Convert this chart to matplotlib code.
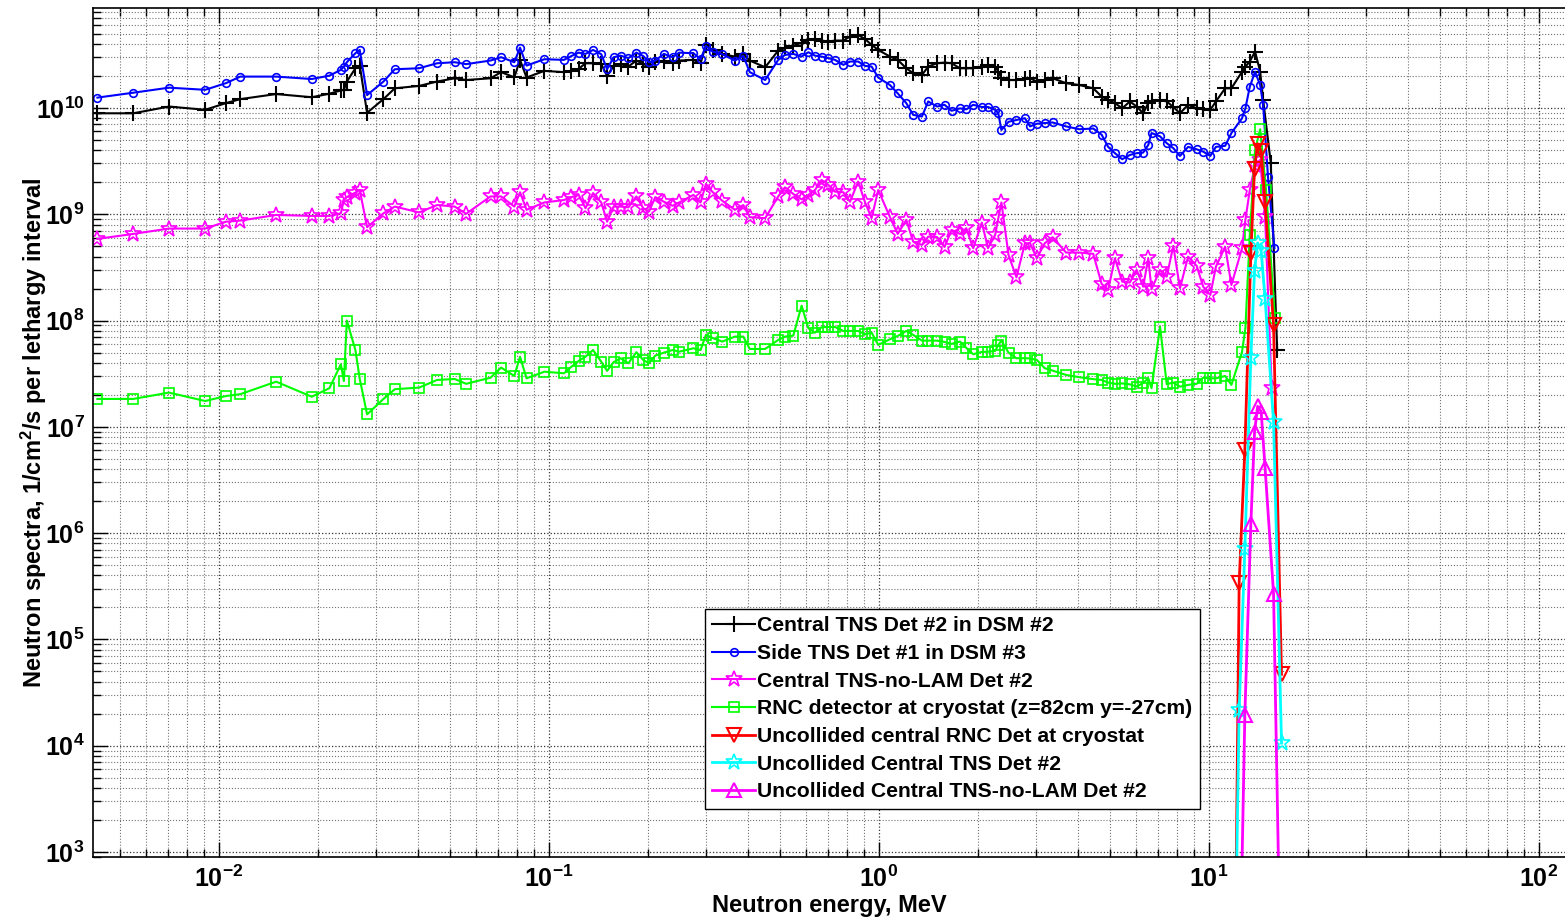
import numpy as np
import matplotlib
matplotlib.use('Agg')
import matplotlib.pyplot as plt
from matplotlib.ticker import FixedLocator, LogLocator, NullFormatter

plt.rcParams['font.family'] = 'Liberation Sans'
plt.rcParams['font.weight'] = 'bold'
plt.rcParams['mathtext.fontset'] = 'custom'
plt.rcParams['mathtext.rm'] = 'Liberation Sans:bold'
plt.rcParams['mathtext.it'] = 'Liberation Sans:bold'
plt.rcParams['mathtext.bf'] = 'Liberation Sans:bold'
plt.rcParams['mathtext.default'] = 'rm'

# group energies, MeV (shared by the four scattered spectra)
energy = [4.28e-3, 5.50e-3, 7.05e-3, 9.08e-3, 1.05e-2, 1.16e-2, 1.49e-2, 1.91e-2, 2.16e-2, 2.34e-2,
          2.39e-2, 2.44e-2, 2.59e-2, 2.67e-2, 2.81e-2, 3.15e-2, 3.41e-2, 4.04e-2, 4.58e-2, 5.18e-2,
          5.61e-2, 6.65e-2, 7.16e-2, 7.85e-2, 8.17e-2, 8.55e-2, 9.68e-2, 0.111, 0.117, 0.123,
          0.129, 0.136, 0.144, 0.150, 0.157, 0.165, 0.174, 0.184, 0.193, 0.201,
          0.210, 0.223, 0.237, 0.248, 0.274, 0.288, 0.299, 0.313, 0.335, 0.366,
          0.388, 0.406, 0.452, 0.495, 0.519, 0.550, 0.583, 0.611, 0.640, 0.670,
          0.702, 0.736, 0.780, 0.817, 0.865, 0.908, 0.950, 0.995, 1.08, 1.14,
          1.21, 1.27, 1.35, 1.41, 1.50, 1.58, 1.66, 1.76, 1.84, 1.93,
          2.05, 2.14, 2.25, 2.30, 2.35, 2.47, 2.61, 2.77, 2.87, 3.01,
          3.18, 3.36, 3.69, 4.05, 4.46, 4.73, 4.95, 5.19, 5.46, 5.76,
          6.04, 6.32, 6.55, 6.70, 7.11, 7.45, 7.80, 8.17, 8.65, 9.18,
          9.61, 10.1, 10.5, 11.2, 11.7, 12.6, 12.9, 13.3, 13.8, 14.3]

central_tns = [8.9e9, 8.9e9, 1.03e10, 9.6e9, 1.11e10, 1.21e10, 1.35e10, 1.26e10, 1.36e10, 1.46e10,
               1.48e10, 1.77e10, 2.36e10, 2.50e10, 9.0e9, 1.21e10, 1.53e10, 1.61e10, 1.77e10, 1.90e10,
               1.83e10, 1.90e10, 2.17e10, 1.94e10, 2.83e10, 1.93e10, 2.23e10, 2.17e10, 2.24e10, 2.33e10,
               2.63e10, 2.63e10, 2.59e10, 2.00e10, 2.48e10, 2.58e10, 2.45e10, 2.79e10, 2.59e10, 2.45e10,
               2.69e10, 2.79e10, 2.67e10, 2.79e10, 2.83e10, 2.63e10, 3.92e10, 3.51e10, 3.20e10, 3.04e10,
               3.20e10, 2.79e10, 2.41e10, 3.46e10, 3.65e10, 3.83e10, 4.11e10, 4.36e10, 4.46e10, 4.30e10,
               4.21e10, 4.30e10, 4.30e10, 4.69e10, 4.86e10, 4.43e10, 3.92e10, 3.51e10, 3.04e10, 2.83e10,
               2.36e10, 2.12e10, 2.04e10, 2.45e10, 2.63e10, 2.67e10, 2.63e10, 2.36e10, 2.36e10, 2.36e10,
               2.45e10, 2.54e10, 2.45e10, 2.19e10, 1.90e10, 1.83e10, 1.83e10, 1.86e10, 1.90e10, 1.77e10,
               1.83e10, 1.90e10, 1.71e10, 1.64e10, 1.53e10, 1.28e10, 1.19e10, 1.11e10, 9.9e9, 1.15e10,
               1.03e10, 8.9e9, 1.11e10, 1.17e10, 1.19e10, 1.15e10, 1.02e10, 8.9e9, 1.07e10, 9.9e9,
               9.7e9, 9.6e9, 1.15e10, 1.53e10, 1.53e10, 2.19e10, 2.45e10, 2.73e10, 3.39e10, 2.19e10]
central_tns_tail_e = [14.6, 15.4, 16.1]
central_tns_tail = [1.19e10, 3.04e9, 5.3e7]

side_tns = [1.25e10, 1.39e10, 1.55e10, 1.48e10, 1.71e10, 1.97e10, 1.97e10, 1.87e10, 2.01e10, 2.28e10,
            2.45e10, 2.69e10, 3.27e10, 3.51e10, 1.32e10, 1.77e10, 2.31e10, 2.36e10, 2.63e10, 2.69e10,
            2.58e10, 2.79e10, 3.00e10, 2.69e10, 3.69e10, 2.50e10, 2.87e10, 2.83e10, 3.08e10, 3.31e10,
            3.22e10, 3.51e10, 3.20e10, 2.31e10, 3.00e10, 3.10e10, 2.94e10, 3.31e10, 3.08e10, 2.69e10,
            2.79e10, 3.22e10, 3.00e10, 3.31e10, 3.27e10, 2.87e10, 3.83e10, 3.39e10, 3.20e10, 2.79e10,
            3.08e10, 2.17e10, 1.83e10, 2.83e10, 3.15e10, 3.22e10, 3.04e10, 3.34e10, 3.10e10, 3.04e10,
            2.94e10, 2.83e10, 2.54e10, 2.73e10, 2.73e10, 2.48e10, 2.45e10, 1.93e10, 1.64e10, 1.37e10,
            1.11e10, 8.6e9, 8.3e9, 1.15e10, 1.03e10, 1.07e10, 9.4e9, 9.9e9, 9.7e9, 1.07e10,
            1.02e10, 1.02e10, 9.6e9, 8.9e9, 6.2e9, 7.4e9, 7.7e9, 8.0e9, 6.7e9, 7.1e9,
            7.2e9, 7.3e9, 6.7e9, 6.3e9, 6.4e9, 5.6e9, 4.3e9, 3.75e9, 3.29e9, 3.61e9,
            3.75e9, 3.8e9, 4.49e9, 5.8e9, 5.4e9, 4.66e9, 4.18e9, 3.53e9, 4.3e9, 4.08e9,
            3.88e9, 3.53e9, 4.3e9, 4.4e9, 5.8e9, 8.0e9, 9.9e9, 1.58e10, 2.19e10, 1.64e10]
side_tns_tail_e = [14.6, 15.1, 15.8]
side_tns_tail = [1.07e10, 2.26e9, 4.79e8]

no_lam = [5.86e8, 6.53e8, 7.33e8, 7.33e8, 8.51e8, 8.71e8, 9.84e8, 9.64e8, 9.64e8, 1.02e9,
          1.36e9, 1.45e9, 1.60e9, 1.69e9, 7.55e8, 1.02e9, 1.18e9, 1.04e9, 1.22e9, 1.18e9,
          1.01e9, 1.47e9, 1.47e9, 1.18e9, 1.61e9, 1.10e9, 1.29e9, 1.36e9, 1.45e9, 1.52e9,
          1.14e9, 1.58e9, 1.29e9, 8.51e8, 1.18e9, 1.18e9, 1.16e9, 1.47e9, 1.14e9, 1.06e9,
          1.45e9, 1.31e9, 1.20e9, 1.29e9, 1.52e9, 1.29e9, 1.93e9, 1.62e9, 1.34e9, 1.10e9,
          1.22e9, 9.38e8, 9.17e8, 1.47e9, 1.79e9, 1.55e9, 1.38e9, 1.52e9, 1.69e9, 2.10e9,
          1.89e9, 1.63e9, 1.61e9, 1.31e9, 2.03e9, 1.29e9, 9.17e8, 1.69e9, 9.38e8, 6.53e8,
          8.84e8, 5.52e8, 5.14e8, 6.15e8, 6.1e8, 4.92e8, 7.12e8, 6.53e8, 7.38e8, 4.79e8,
          8.34e8, 4.79e8, 6.38e8, 9.17e8, 1.29e9, 4.14e8, 2.55e8, 5.33e8, 5.33e8, 3.85e8,
          5.33e8, 6.08e8, 4.36e8, 4.36e8, 4.24e8, 2.21e8, 1.94e8, 3.85e8, 2.32e8, 2.28e8,
          2.99e8, 2.08e8, 3.85e8, 1.97e8, 2.99e8, 2.59e8, 5.04e8, 2.01e8, 3.99e8, 3.27e8,
          2.08e8, 1.74e8, 3.21e8, 4.95e8, 2.16e8, 4.79e8, 8.84e8, 1.69e9, 2.91e9, 3.24e9]
no_lam_tail_e = [14.8, 15.5]
no_lam_tail = [9.4e8, 2.3e7]

rnc = [1.83e7, 1.83e7, 2.10e7, 1.75e7, 1.95e7, 2.03e7, 2.66e7, 1.92e7, 2.31e7, 3.88e7,
       2.70e7, 1.0e8, 5.28e7, 2.82e7, 1.31e7, 1.83e7, 2.26e7, 2.34e7, 2.76e7, 2.82e7,
       2.54e7, 2.90e7, 3.61e7, 3.01e7, 4.57e7, 2.86e7, 3.30e7, 3.19e7, 3.68e7, 4.17e7,
       4.57e7, 5.28e7, 4.10e7, 3.36e7, 4.06e7, 4.42e7, 3.96e7, 5.04e7, 4.26e7, 3.96e7,
       4.68e7, 4.99e7, 5.28e7, 5.09e7, 5.48e7, 5.28e7, 7.33e7, 6.86e7, 6.34e7, 7.06e7,
       7.06e7, 5.40e7, 5.40e7, 6.57e7, 7.06e7, 7.21e7, 1.38e8, 8.47e7, 7.69e7, 8.65e7,
       8.7e7, 8.7e7, 7.98e7, 7.98e7, 7.98e7, 7.43e7, 7.69e7, 5.90e7, 6.67e7, 7.16e7,
       7.98e7, 7.33e7, 6.47e7, 6.47e7, 6.47e7, 6.29e7, 6.03e7, 6.34e7, 5.52e7, 4.82e7,
       5.07e7, 5.09e7, 5.18e7, 5.90e7, 6.47e7, 4.99e7, 4.42e7, 4.42e7, 4.4e7, 4.26e7,
       3.56e7, 3.38e7, 3.08e7, 2.93e7, 2.81e7, 2.76e7, 2.61e7, 2.54e7, 2.56e7, 2.51e7,
       2.39e7, 2.59e7, 2.86e7, 2.31e7, 8.77e7, 2.52e7, 2.61e7, 2.39e7, 2.48e7, 2.54e7,
       2.90e7, 2.86e7, 2.86e7, 3.01e7, 2.48e7, 5.07e7, 8.5e7, 6.38e8, 4.03e9, 6.3e9]
rnc_tail_e = [14.9, 15.85]
rnc_tail = [1.69e9, 1.06e8]

# uncollided 14 MeV peak groups
unc_energy = [12.0, 12.35, 12.85, 13.4, 13.75, 14.05, 14.4, 14.8, 15.7, 16.6]
unc_rnc = [60, 3.4e5, 6.1e6, 4.3e8, 2.67e9, 4.6e9, 3.9e9, 1.29e9, 9.1e7, 4.7e4]
unc_tns = [80, 2.17e4, 7.1e5, 4.45e7, 2.93e8, 5.37e8, 4.52e8, 1.6e8, 1.11e7, 1.06e4]
unc_no_lam = [np.nan, 30, 1.95e4, 1.22e6, 8.95e6, 1.56e7, 1.39e7, 4.1e6, 2.7e5, 20]

x_ticks = [1e-2, 1e-1, 1e0, 1e1, 1e2]
y_ticks = [1e3, 1e4, 1e5, 1e6, 1e7, 1e8, 1e9, 1e10]

fig = plt.figure(figsize=(15.65, 9.19), dpi=100)
ax = fig.add_axes([93 / 1565, 62 / 919, 1472 / 1565, 849.5 / 919])

ax.plot(energy + central_tns_tail_e, central_tns + central_tns_tail, color='k', lw=1.5,
        marker='+', ms=11, mew=1.5, label='Central TNS Det #2 in DSM #2')
ax.plot(energy + side_tns_tail_e, side_tns + side_tns_tail, color='#0000ff', lw=1.5,
        marker='o', ms=5.5, mew=1.2, mfc='none', label='Side TNS Det #1 in DSM #3')
ax.plot(energy + no_lam_tail_e, no_lam + no_lam_tail, color='#ff00ff', lw=1.5,
        marker='*', ms=12, mew=1.2, mfc='none', label='Central TNS-no-LAM Det #2')
ax.plot(energy + rnc_tail_e, rnc + rnc_tail, color='#00ff00', lw=1.5,
        marker='s', ms=7, mew=1.2, mfc='none', label='RNC detector at cryostat (z=82cm y=-27cm)')
ax.plot(unc_energy, unc_rnc, color='#ff0000', lw=2, marker='v', ms=10, mew=1.5, mfc='none',
        label='Uncollided central RNC Det at cryostat')
ax.plot(unc_energy, unc_tns, color='#00ffff', lw=2, marker='*', ms=12, mew=1.2, mfc='none',
        label='Uncollided Central TNS Det #2')
ax.plot(unc_energy, unc_no_lam, color='#ff00ff', lw=2, marker='^', ms=10, mew=1.5, mfc='none',
        label='Uncollided Central TNS-no-LAM Det #2')

ax.set_xscale('log')
ax.set_yscale('log')
ax.set_xlim(4.15e-3, 120)
ax.set_ylim(899, 8.8e10)
ax.xaxis.set_major_locator(FixedLocator(x_ticks))
ax.yaxis.set_major_locator(FixedLocator(y_ticks))
for axis in (ax.xaxis, ax.yaxis):
    axis.set_minor_locator(LogLocator(base=10, subs=np.arange(2, 10), numticks=20))
    axis.set_minor_formatter(NullFormatter())

ax.grid(which='major', ls=':', color='0.2', lw=0.9)
ax.grid(which='minor', ls=':', color='0.45', lw=0.8)
ax.set_axisbelow(True)

ax.tick_params(which='both', direction='in', top=True, right=False, labelsize=18, width=1.0)
ax.tick_params(which='major', length=10.5, pad=6)
ax.tick_params(which='minor', length=5.5)
ax.spines['right'].set_visible(False)
for s in ['left', 'bottom', 'top']:
    ax.spines[s].set_linewidth(1.2)

ax.set_xlabel('Neutron energy, MeV', fontsize=17, fontweight='bold')
ax.xaxis.set_label_coords(0.5, -0.043)
ax.set_ylabel('Neutron spectra, 1/cm$^2$/s per lethargy interval', fontsize=17,
              fontweight='bold')
ax.yaxis.set_label_coords(-0.030, 0.5)

leg = ax.legend(loc='upper left', bbox_to_anchor=(705 / 1565, 1 - 609 / 919),
                bbox_transform=fig.transFigure, borderaxespad=0,
                prop={'size': 15.2, 'weight': 'bold'}, handlelength=2.0, handletextpad=0.12,
                labelspacing=0.41, borderpad=0.35, fancybox=False, framealpha=1,
                edgecolor='k', numpoints=1)
leg.get_frame().set_linewidth(1.0)

fig.savefig('out.png', dpi=100)
